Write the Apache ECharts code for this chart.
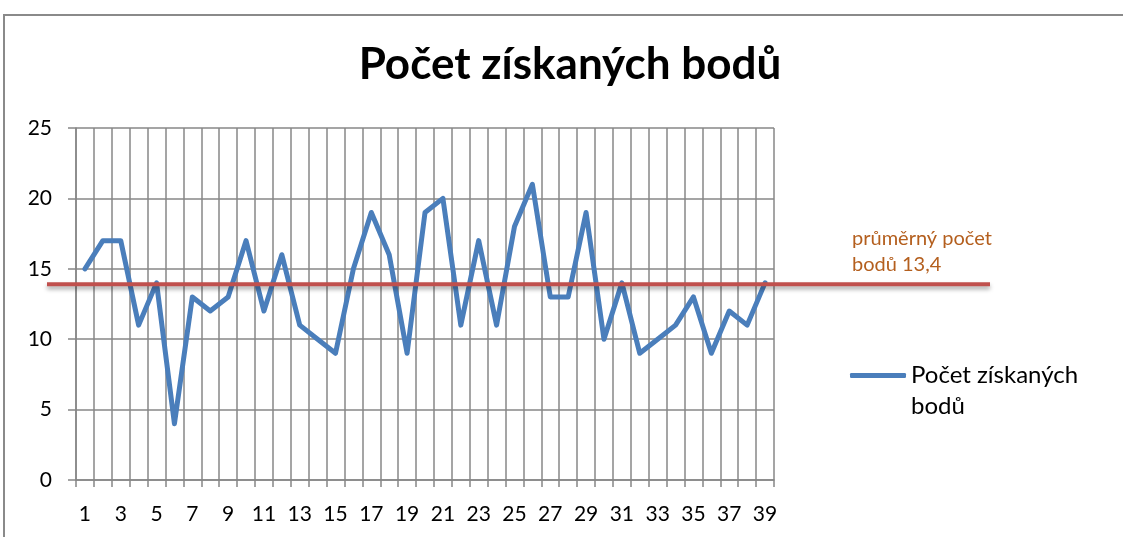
<!DOCTYPE html>
<html>
<head>
<meta charset="utf-8">
<script src="https://cdn.jsdelivr.net/npm/echarts@6/dist/echarts.min.js"></script>
<style>
  html, body { margin: 0; padding: 0; background: #fff; }
  #chart { width: 1123px; height: 537px; }
</style>
</head>
<body>
<div id="chart"></div>
<script>
// kategorie (pořadí studentů) a body
const categories = ['1','2','3','4','5','6','7','8','9','10','11','12','13','14','15','16','17','18','19','20',
  '21','22','23','24','25','26','27','28','29','30','31','32','33','34','35','36','37','38','39'];
const points = [15,17,17,11,14,4,13,12,13,17,12,16,11,10,9,15,19,16,9,19,
  20,11,17,11,18,21,13,13,19,10,14,9,10,11,13,9,12,11,14];
const yMin = 0;
const yMax = 25;
const yStep = 5;
// červená čára průměru (nakreslená ručně, leží kousek nad 13,4)
const avgLineValue = 13.9;
const avgLabel = 'průměrný počet\nbodů 13,4';
const seriesName = 'Počet získaných bodů';

const font = 'Lato, "Open Sans", sans-serif';
const gridColor = '#878787';

const chart = echarts.init(document.getElementById('chart'));
const option = {
  animation: false,
  title: {
    text: seriesName,
    left: 565,
    top: 38,
    textAlign: 'center',
    textStyle: { fontFamily: font, fontWeight: 'bold', fontSize: 44, color: '#000' }
  },
  grid: { left: 76, right: 349, top: 128, bottom: 57 },
  legend: {
    data: [seriesName],
    left: 850,
    top: 329,
    padding: 0,
    orient: 'vertical',
    icon: 'roundRect',
    itemWidth: 56,
    itemHeight: 5,
    itemGap: 4,
    // prázdný první řádek -> první řádek textu je v úrovni čáry
    formatter: function () { return '\nPočet získaných\nbodů'; },
    textStyle: { fontFamily: font, fontSize: 24, lineHeight: 31, color: '#000' }
  },
  xAxis: {
    type: 'category',
    data: categories,
    boundaryGap: true,
    axisLine: { show: true, lineStyle: { color: gridColor, width: 1.5 } },
    axisTick: { show: true, interval: 0, length: 7, lineStyle: { color: gridColor, width: 1.5 } },
    axisLabel: { interval: 1, margin: 24, fontFamily: font, fontSize: 21, color: '#000' },
    splitLine: { show: true, interval: 0, lineStyle: { color: gridColor, width: 1.5 } }
  },
  yAxis: {
    type: 'value',
    min: yMin,
    max: yMax,
    interval: yStep,
    axisLine: { show: true, lineStyle: { color: gridColor, width: 1.5 } },
    axisTick: { show: true, length: 8, lineStyle: { color: gridColor, width: 1.5 } },
    axisLabel: { margin: 24, fontFamily: font, fontSize: 21, color: '#000' },
    splitLine: { show: true, lineStyle: { color: gridColor, width: 1.5 } }
  },
  series: [
    {
      name: seriesName,
      type: 'line',
      data: points,
      symbol: 'none',
      itemStyle: { color: '#4A7EBB' },
      lineStyle: { color: '#4A7EBB', width: 5, join: 'round', cap: 'round' }
    }
  ]
};
chart.setOption(option);

// průměrná čára + popisek, poloha přes osu y
const avgY = chart.convertToPixel({ yAxisIndex: 0 }, avgLineValue);
chart.setOption({
  graphic: [
    {
      type: 'polyline',
      shape: { points: [[4, 537], [4, 15], [1123, 15]] },
      style: { stroke: '#8a8a8a', lineWidth: 2, fill: null },
      silent: true
    },
    {
      type: 'line',
      shape: { x1: 47, y1: avgY, x2: 990, y2: avgY },
      style: {
        stroke: '#C0504D', lineWidth: 4,
        shadowColor: 'rgba(0,0,0,0.35)', shadowBlur: 4, shadowOffsetY: 3
      },
      z: 10
    },
    {
      type: 'text',
      left: 852,
      top: 226,
      style: { text: avgLabel, fill: '#B45F1E', font: '20px ' + font, lineHeight: 26 },
      z: 10
    }
  ]
});
</script>
</body>
</html>
